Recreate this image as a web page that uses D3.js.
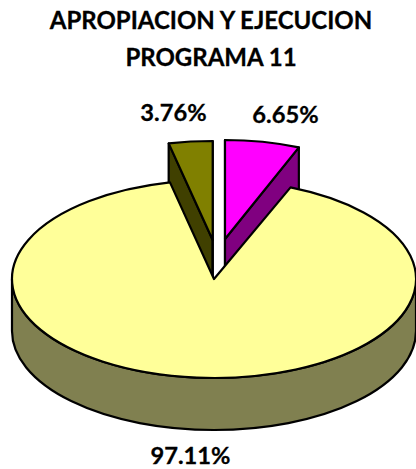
<!DOCTYPE html>
<html><head><meta charset="utf-8">
<script src="https://cdnjs.cloudflare.com/ajax/libs/d3/7.8.5/d3.min.js"></script>
<style>html,body{margin:0;padding:0;background:#fff}svg{display:block}</style>
</head><body><div id="c"></div>
<script>
const titleLines = ["APROPIACION Y EJECUCION", "PROGRAMA 11"];
const categories = ["Ejecucion A", "Apropiacion", "Ejecucion B"];
const values = [6.65, 97.11, 3.76];
const labels = ["6.65%", "97.11%", "3.76%"];
const topColors = ["#FF00FF", "#FFFF99", "#808000"];
const wallColors = ["#800080", "#808050", "#404000"];

const W = 416, H = 469;
const cx = 214, cy = 279, R = 202, ratio = 99 / 202, depth = 52;
const offsets = [[225, 239], [cx, cy], [212.7, 240]];
const xStretch = [0.965, 1, 1];
const labelPos = [[285.5, 123], [190.5, 464], [173.5, 121]];
const font = "Lato, Carlito, Calibri, sans-serif";
const sw = 2.2;

const svg = d3.select("#c").append("svg").attr("width", W).attr("height", H);
const pie = d3.pie().sort(null).value(d => d);
const arcs = pie(values);
const arcGen = d3.arc().innerRadius(0).outerRadius(R);

const layer = (i) => svg.append("g")
  .attr("transform", `translate(${offsets[i][0]},${offsets[i][1]}) scale(${xStretch[i]},${ratio})`);
const style = (sel, fill) => sel.attr("fill", fill).attr("stroke", "#000")
  .attr("stroke-width", sw).attr("stroke-linejoin", "round")
  .attr("vector-effect", "non-scaling-stroke");
const d = depth / ratio;
const pt = a => [R * Math.sin(a), -R * Math.cos(a)];

// side wall of a cut edge: apex to rim at angle a, extruded downward
function cutWall(a) {
  const [x, y] = pt(a), p = d3.path();
  p.moveTo(0, 0); p.lineTo(x, y); p.lineTo(x, y + d); p.lineTo(0, d); p.closePath();
  return p.toString();
}

// exploded slices, behind the main body
[2, 0].forEach(i => {
  const g = layer(i);
  [arcs[i].startAngle, arcs[i].endAngle].forEach(a =>
    style(g.append("path").attr("d", cutWall(a)), wallColors[i]));
  style(g.append("path").attr("d", arcGen(arcs[i])), topColors[i]);
});

// main body: front wall then top face
{
  const g = layer(1);
  const p = d3.path();
  p.moveTo(R, 0);
  p.arc(0, 0, R, 0, Math.PI, false);
  p.lineTo(-R, d);
  p.arc(0, d, R, Math.PI, 0, true);
  p.closePath();
  style(g.append("path").attr("d", p.toString()), wallColors[1]);
  style(g.append("path").attr("d", arcGen(arcs[1])), topColors[1]);
}

const textStyle = sel => sel.attr("text-anchor", "middle").attr("font-family", font)
  .attr("font-weight", 700).attr("fill", "#000")
  .attr("stroke", "#000").attr("stroke-width", 0.3);

// title
svg.append("g").selectAll("text").data(titleLines).join("text")
  .attr("x", 211).attr("y", (t, i) => 29 + i * 37)
  .attr("font-size", 24).call(textStyle).text(t => t);

// data labels
svg.append("g").selectAll("text").data(labels).join("text")
  .attr("x", (t, i) => labelPos[i][0]).attr("y", (t, i) => labelPos[i][1])
  .attr("font-size", 23.7).call(textStyle).text(t => t);
</script></body></html>
